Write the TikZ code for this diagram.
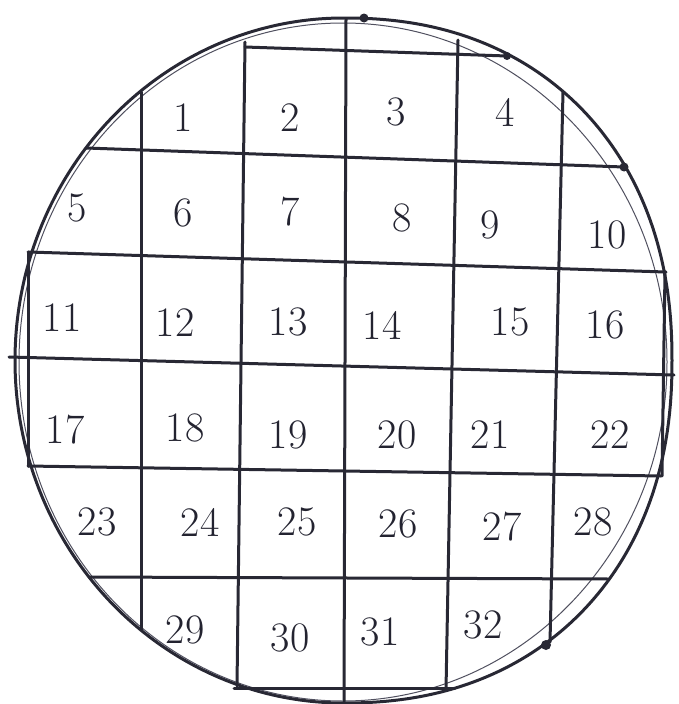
\documentclass[tikz,border=0pt]{standalone}
\begin{document}
\begin{tikzpicture}[x=1pt,y=-1pt,
  declare function={ex(\t)=ifthenelse(cos(\t)>0,-0.0909,0);
    sx(\t)=343.5+328.5*cos(\t)*pow(abs(cos(\t))+0.0001,ex(\t));
    sy(\t)=360.5+342.5*sin(\t)*pow(abs(sin(\t))+0.0001,ex(\t));},
  ink/.style={draw={rgb,255:red,40;green,40;blue,52},line width=3pt,line cap=round,line join=round},
  thinink/.style={draw={rgb,255:red,80;green,80;blue,95},line width=1pt},
  lbl/.style={text={rgb,255:red,35;green,35;blue,48},font=\fontsize{42}{46}\selectfont,inner sep=0pt},
  dotmark/.style={fill={rgb,255:red,40;green,40;blue,52}}]
\useasboundingbox (0,0) rectangle (679,704);
% wafer outline (hand-drawn, double stroke)
\draw[ink] plot[domain=0:360,samples=181,smooth cycle] ({sx(\x)},{sy(\x)});
\draw[thinink] (343,362) ellipse[x radius=324, y radius=339];
% horizontal lines
\coordinate (h0a) at (245,47);  \coordinate (h0b) at (507,56);
\coordinate (h1a) at (86,148);  \coordinate (h1b) at (624,167);
\coordinate (h2a) at (28,252);  \coordinate (h2b) at (666,272);
\coordinate (h3a) at (9,357);   \coordinate (h3b) at (674,375);
\coordinate (h4a) at (28,466);  \coordinate (h4b) at (661,476);
\coordinate (h5a) at (89,577);  \coordinate (h5b) at (609,579);
\coordinate (h6a) at (234,688); \coordinate (h6b) at (455,688);
\foreach \k in {0,...,6} \draw[ink] (h\k a) -- (h\k b);
% vertical lines
\coordinate (v1a) at (141,92);  \coordinate (v1b) at (141,630);
\coordinate (v2a) at (245,42);  \coordinate (v2b) at (237,686);
\coordinate (v3a) at (346,19);  \coordinate (v3b) at (344,703);
\coordinate (v4a) at (458,40);  \coordinate (v4b) at (446,690);
\coordinate (v5a) at (563,92);  \coordinate (v5b) at (550,642);
\coordinate (v6a) at (28,252);  \coordinate (v6b) at (28,466);
\coordinate (v7a) at (665,272); \coordinate (v7b) at (662,476);
\foreach \k in {1,...,7} \draw[ink] (v\k a) -- (v\k b);
% pen dots
\fill[dotmark] (364,18) circle (4.5);
\fill[dotmark] (h0b) circle (4);
\fill[dotmark] (h1b) circle (4.5);
\fill[dotmark] (546,645) circle (5);
% die numbers
\foreach \i/\x/\y in {1/183/118,2/290/118,3/396/112,4/505/112,
  5/77/208,6/183/213,7/290/212,8/402/218,9/490/225,10/607/235,
  11/62/318,12/175/323,13/288/322,14/382/325,15/510/322,16/605/325,
  17/65/430,18/185/428,19/288/435,20/397/435,21/490/435,22/610/435,
  23/97/522,24/200/522,25/297/522,26/398/524,27/502/527,28/593/522,
  29/185/630,30/290/638,31/380/632,32/483/625}
  \node[lbl] (n\i) at (\x,\y) {\i};
\end{tikzpicture}
\end{document}
